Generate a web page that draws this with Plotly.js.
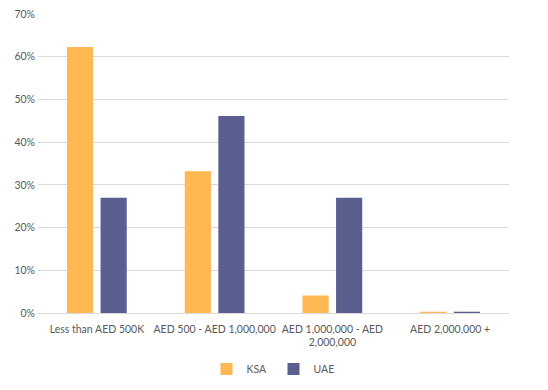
<!DOCTYPE html>
<html><head><meta charset="utf-8">
<script src="https://cdn.plot.ly/plotly-3.0.1.min.js"></script>
<style>html,body{margin:0;padding:0;background:#fff;}#chart{width:548px;height:390px;}</style>
</head><body><div id="chart"></div>
<script>
var categories = ["Less than AED 500K", "AED 500 - AED 1,000,000", "AED 1,000,000 - AED<br>2,000,000", "AED 2,000,000 +"];
var ksaValues = [62.3, 33.2, 4.1, 0.3];
var uaeValues = [27.0, 46.1, 27.0, 0.3];
var yTicks = [0, 10, 20, 30, 40, 50, 60, 70];

var font = {family: "Lato, 'Open Sans', sans-serif", size: 10.5, color: "#595959"};
var data = [
  {type: "bar", name: "KSA", x: categories, y: ksaValues, marker: {color: "#FFB852"}, hoverinfo: "none"},
  {type: "bar", name: "UAE", x: categories, y: uaeValues, marker: {color: "#5B5F90"}, hoverinfo: "none"}
];
var layout = {
  width: 548, height: 390,
  margin: {l: 38, r: 39, t: 14, b: 77, autoexpand: false},
  paper_bgcolor: "#fff", plot_bgcolor: "#fff",
  font: font,
  barmode: "group", bargap: 0.43, bargroupgap: 0.22,
  showlegend: true,
  legend: {orientation: "h", x: 0.5, xanchor: "center", y: -0.187, yanchor: "middle", font: font, itemwidth: 30, entrywidth: 22, entrywidthmode: "pixels", tracegroupgap: 0},
  xaxis: {showgrid: false, zeroline: false, showline: false, ticks: "", tickfont: font, automargin: false, ticklabelstandoff: 8},
  yaxis: {range: [0, 70], tickvals: yTicks, ticktext: yTicks.map(function(v){return v + "%";}), showgrid: true, gridcolor: "#D9D9D9", gridwidth: 1, zeroline: true, zerolinecolor: "#D9D9D9", zerolinewidth: 1, showline: false, ticks: "", tickfont: font, automargin: false, ticklabelstandoff: 2}
};
Plotly.newPlot("chart", data, layout, {displayModeBar: false, staticPlot: true});
</script></body></html>
